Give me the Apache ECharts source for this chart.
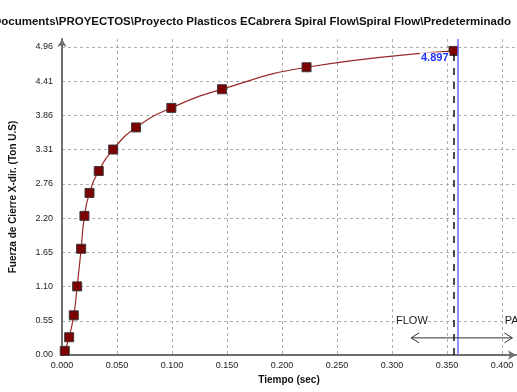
<!DOCTYPE html>
<html>
<head>
<meta charset="utf-8">
<script src="https://cdn.jsdelivr.net/npm/echarts@6/dist/echarts.min.js"></script>
<style>
  html, body { margin: 0; padding: 0; background: #ffffff; }
  #chart { width: 517px; height: 392px; }
</style>
</head>
<body>
<div id="chart"></div>
<script>
// Clamp force vs. time samples (time in s, force in US tons)
const timeSec = [0.0025, 0.0065, 0.0107, 0.0138, 0.0174, 0.0204, 0.0250, 0.0334,
                 0.0465, 0.0673, 0.0994, 0.1454, 0.2223, 0.3559];
const clampForce = [0.067, 0.286, 0.639, 1.105, 1.711, 2.241, 2.610, 2.963,
                    3.309, 3.665, 3.980, 4.280, 4.634, 4.897];

// Flow / pack switch-over time and the arrow half width around it
const switchTime = 0.3634;
const arrowHalfSpan = 0.046;
const arrowLevel = 0.276;
const phaseLabels = ['FLOW', 'PACK'];

// Axis tick set-up
const yTickMax = 4.96;
const yTickCount = 9;
const yAxisTop = 5.089;
const xTickStep = 0.05;
const xAxisEnd = 0.4127;

const titleText = 'Documents\\PROYECTOS\\Proyecto Plasticos ECabrera Spiral Flow\\Spiral Flow\\Predeterminado';

const lastIdx = timeSec.length - 1;
const points = timeSec.map((t, i) => [t, clampForce[i]]);

const tickFont = { fontFamily: 'Liberation Sans', fontSize: 9, color: '#222' };
const gridDash = { color: '#adadad', width: 1, type: [3, 3] };

const chart = echarts.init(document.getElementById('chart'), null, { renderer: 'canvas' });

chart.setOption({
  backgroundColor: '#ffffff',
  animation: false,
  title: {
    text: titleText,
    right: 1,
    top: 11,
    textStyle: { fontFamily: 'Liberation Sans', fontSize: 11.5, fontWeight: 'bold', color: '#111' }
  },
  grid: { left: 61, right: 1, top: 39, bottom: 37, containLabel: false },
  xAxis: {
    type: 'value',
    min: 0,
    max: xAxisEnd,
    interval: xTickStep,
    name: 'Tiempo (sec)',
    nameLocation: 'middle',
    nameGap: 17,
    nameTextStyle: { fontFamily: 'Liberation Sans', fontSize: 10, fontWeight: 'bold', color: '#111' },
    axisLine: { show: true, symbol: ['none', 'arrow'], symbolSize: [7, 8], lineStyle: { color: '#6e6e6e', width: 2 } },
    axisTick: { show: false },
    axisLabel: Object.assign({ margin: 6, showMaxLabel: false, formatter: v => v.toFixed(3) }, tickFont),
    splitLine: { show: true, showMinLine: false, showMaxLine: false, lineStyle: gridDash }
  },
  yAxis: {
    type: 'value',
    min: 0,
    max: yAxisTop,
    interval: yTickMax / yTickCount,
    name: 'Fuerza de Cierre X-dir. (Ton U.S)',
    nameLocation: 'middle',
    nameGap: 44,
    nameTextStyle: { fontFamily: 'Liberation Sans', fontSize: 10, fontWeight: 'bold', color: '#111' },
    axisLine: { show: true, symbol: ['none', 'arrow'], symbolSize: [7, 8], lineStyle: { color: '#6e6e6e', width: 2 } },
    axisTick: { show: false },
    axisLabel: Object.assign({ margin: 9, showMaxLabel: false, formatter: v => v.toFixed(2) }, tickFont),
    splitLine: { show: true, showMinLine: false, showMaxLine: false, lineStyle: gridDash }
  },
  series: [
    {
      type: 'line',
      data: points.map((p, i) => i === lastIdx ? {
        value: p,
        label: {
          show: true,
          position: 'left',
          offset: [6, 7],
          formatter: p[1].toFixed(3),
          fontFamily: 'Liberation Sans',
          fontSize: 11,
          fontWeight: 'bold',
          color: '#2233ff',
          backgroundColor: '#ffffff',
          padding: [0, 1]
        }
      } : p),
      smooth: 0.5,
      symbol: 'rect',
      symbolSize: 9,
      itemStyle: { color: '#7c0000', borderColor: '#3a3a3a', borderWidth: 1 },
      lineStyle: { color: '#9a2a2a', width: 1.2 },
      z: 4,
      markLine: {
        silent: true,
        symbol: 'none',
        label: { show: false },
        data: [
          [
            { coord: [timeSec[lastIdx], 0], lineStyle: { color: '#111', width: 1.5, type: [7, 7] } },
            { coord: [timeSec[lastIdx], clampForce[lastIdx]] }
          ],
          { xAxis: switchTime, lineStyle: { color: '#6d6dff', width: 1.5, type: 'solid' } }
        ]
      }
    },
    {
      // Double-headed flow/pack arrow centred on the switch-over time
      type: 'custom',
      silent: true,
      clip: false,
      z: 5,
      data: [[switchTime, arrowLevel]],
      renderItem: function (params, api) {
        const t = api.value(0);
        const lvl = api.value(1);
        const a = api.coord([t - arrowHalfSpan, lvl]);
        const b = api.coord([t + arrowHalfSpan, lvl]);
        const head = 8, spread = 5;
        const stroke = { stroke: '#333', lineWidth: 1, fill: null };
        return {
          type: 'group',
          children: [
            { type: 'line', shape: { x1: a[0], y1: a[1], x2: b[0], y2: b[1] }, style: stroke },
            { type: 'polyline', shape: { points: [[a[0] + head, a[1] - spread], [a[0], a[1]], [a[0] + head, a[1] + spread]] }, style: stroke },
            { type: 'polyline', shape: { points: [[b[0] - head, b[1] - spread], [b[0], b[1]], [b[0] - head, b[1] + spread]] }, style: stroke },
            {
              type: 'text',
              x: api.coord([t, 0])[0] - 34,
              y: a[1] - 17,
              style: {
                text: phaseLabels[0], fontFamily: 'Liberation Sans', fontSize: 11,
                fill: '#1a1a1a', align: 'right', verticalAlign: 'middle',
                backgroundColor: '#ffffff'
              }
            },
            {
              type: 'text',
              x: api.coord([t, 0])[0] + 43,
              y: a[1] - 17,
              style: {
                text: phaseLabels[1], fontFamily: 'Liberation Sans', fontSize: 11,
                fill: '#1a1a1a', align: 'left', verticalAlign: 'middle',
                backgroundColor: '#ffffff'
              }
            }
          ]
        };
      }
    }
  ]
});
</script>
</body>
</html>
